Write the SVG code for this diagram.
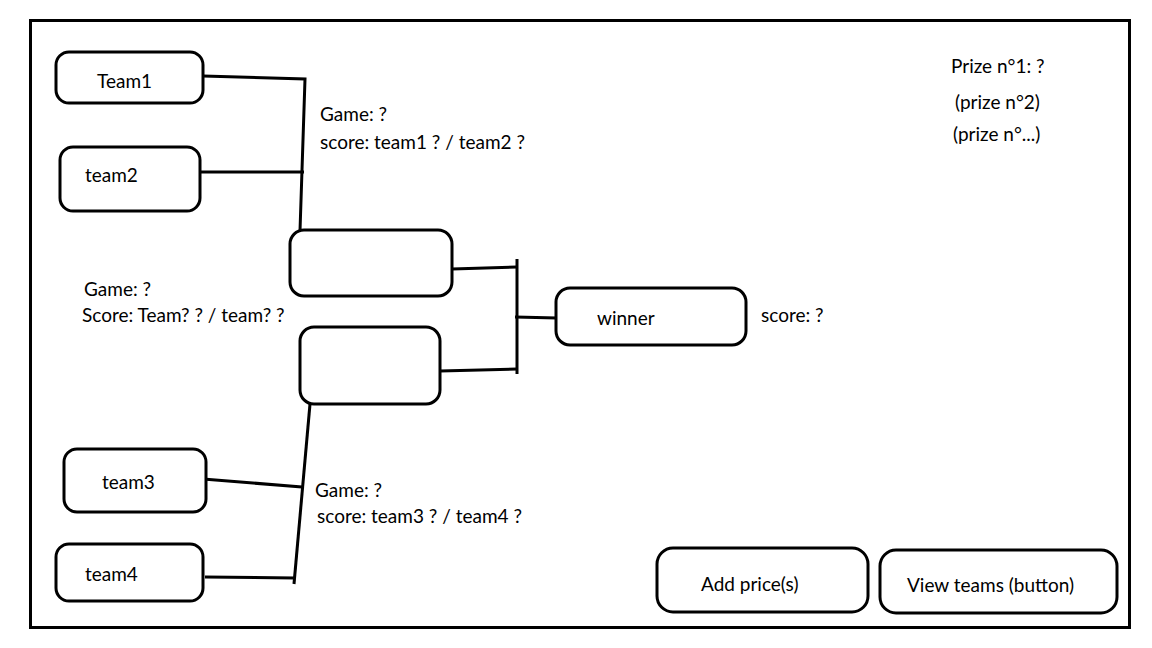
<svg xmlns="http://www.w3.org/2000/svg" width="1152" height="648" viewBox="0 0 1152 648">
<style>
.box{fill:#fff;stroke:#000;stroke-width:3}
.ln{fill:none;stroke:#000;stroke-width:3;stroke-linecap:butt}
text{font-family:Lato,"Open Sans","Liberation Sans",sans-serif;font-size:19px;fill:#000}
</style>
<rect x="0" y="0" width="1152" height="648" fill="#fff"/>
<rect x="30.5" y="20.5" width="1099" height="607" fill="none" stroke="#000" stroke-width="3"/>
<g id="connectors">
<polyline class="ln" points="203,76 305,79 300,231"/>
<line class="ln" x1="200" y1="172" x2="304" y2="172"/>
<polyline class="ln" points="452,269 517,267"/>
<line class="ln" x1="517" y1="259" x2="517" y2="374"/>
<polyline class="ln" points="440,371 517,369"/>
<line class="ln" x1="515" y1="317" x2="557" y2="318"/>
<line class="ln" x1="310" y1="404" x2="294" y2="584"/>
<line class="ln" x1="203" y1="479" x2="302" y2="487"/>
<line class="ln" x1="205" y1="577" x2="295" y2="578"/>
</g>
<g id="team1"><rect class="box" x="56" y="52" width="147" height="51" rx="13"/><text x="97" y="88">Team1</text></g>
<g id="team2"><rect class="box" x="60" y="147" width="140" height="64" rx="13"/><text x="85" y="182">team2</text></g>
<g id="semi1"><rect class="box" x="290" y="230" width="162" height="66" rx="14"/></g>
<g id="semi2"><rect class="box" x="300" y="327" width="140" height="77" rx="14"/></g>
<g id="winner"><rect class="box" x="556" y="288" width="190" height="57" rx="14"/><text x="597" y="325">winner</text></g>
<g id="team3"><rect class="box" x="64" y="449" width="142" height="63" rx="13"/><text x="102" y="489">team3</text></g>
<g id="team4"><rect class="box" x="56" y="544" width="147" height="57" rx="13"/><text x="85" y="581">team4</text></g>
<g id="add-price"><rect class="box" x="657" y="548" width="211" height="64" rx="16"/><text x="701" y="591">Add price(s)</text></g>
<g id="view-teams"><rect class="box" x="880" y="550" width="237" height="63" rx="16"/><text x="907" y="592">View teams (button)</text></g>
<g id="labels">
<text x="320" y="121">Game: ?</text>
<text x="320" y="149">score: team1 ? / team2 ?</text>
<text x="84" y="296">Game: ?</text>
<text x="82" y="322">Score: Team? ? / team? ?</text>
<text x="315" y="497">Game: ?</text>
<text x="317" y="523">score: team3 ? / team4 ?</text>
<text x="761" y="322">score: ?</text>
<text x="951" y="73">Prize n°1: ?</text>
<text x="955" y="109">(prize n°2)</text>
<text x="953" y="141">(prize n°...)</text>
</g>
</svg>
